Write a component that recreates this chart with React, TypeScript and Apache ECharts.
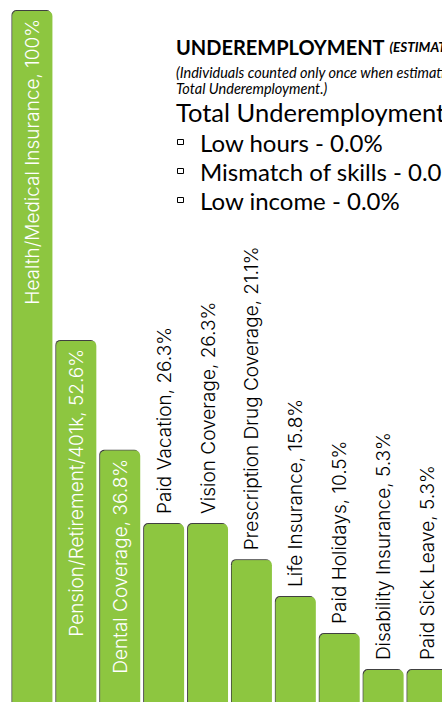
import React, { useEffect, useRef } from "react";
import * as echarts from "echarts";

const categories = [
  "Health/Medical Insurance",
  "Pension/Retirement/401k",
  "Dental Coverage",
  "Paid Vacation",
  "Vision Coverage",
  "Prescription Drug Coverage",
  "Life Insurance",
  "Paid Holidays",
  "Disability Insurance",
  "Paid Sick Leave",
];
const values = [100, 52.6, 36.8, 26.3, 26.3, 21.1, 15.8, 10.5, 5.3, 5.3];
const insideCount = 3;

const titleMain = "UNDEREMPLOYMENT ";
const titleSuffix = "(ESTIMATED)";
const noteLines = [
  "(Individuals counted only once when estimating",
  "Total Underemployment.)",
];
const totalLine = "Total Underemployment - 0.0%";
const bulletLines = ["Low hours - 0.0%", "Mismatch of skills - 0.0%", "Low income - 0.0%"];

const GREEN = "#8DC63F";
const LABEL_FONT = "Inter";

export default function App() {
  const ref = useRef<HTMLDivElement>(null);
  useEffect(() => {
    if (!ref.current) return;
    const chart = echarts.init(ref.current, undefined, { renderer: "svg" });
    const data = values.map((v, i) => {
      const inside = i < insideCount;
      return {
        value: v,
        label: inside
          ? {
              show: true,
              position: "insideTop",
              rotate: 90,
              align: "right",
              verticalAlign: "middle",
              distance: 8,
              color: "#ffffff",
            }
          : {
              show: true,
              position: "top",
              rotate: 90,
              align: "left",
              verticalAlign: "middle",
              distance: 10,
              color: "#000000",
            },
      };
    });
    const graphics: any[] = [
      {
        type: "text",
        x: 176,
        y: 47,
        style: {
          text: "{a|" + titleMain + "}{b|" + titleSuffix + "}",
          verticalAlign: "middle",
          rich: {
            a: { fontFamily: "Lato", fontWeight: "bold", fontSize: 20, fill: "#000" },
            b: { fontFamily: "Lato", fontWeight: "bold", fontStyle: "italic", fontSize: 13.5, fill: "#000" },
          },
        },
      },
      ...noteLines.map((t, i) => ({
        type: "text",
        x: 176,
        y: 72 + i * 16,
        style: {
          text: t,
          fontFamily: "Lato",
          fontStyle: "italic",
          fontSize: 14.5,
          fill: "#000",
          verticalAlign: "middle",
        },
      })),
      {
        type: "text",
        x: 176,
        y: 112,
        style: { text: totalLine, fontFamily: "Lato", fontSize: 25.5, fill: "#000", verticalAlign: "middle" },
      },
      ...bulletLines.flatMap((t, i) => [
        {
          type: "rect",
          shape: { x: 177.5, y: 139.5 + i * 29, width: 6, height: 5 },
          style: { fill: "#fff", stroke: "#000", lineWidth: 1 },
        },
        {
          type: "text",
          x: 200,
          y: 142 + i * 29,
          style: { text: t, fontFamily: "Lato", fontSize: 24, fill: "#000", verticalAlign: "middle" },
        },
      ]),
    ];
    chart.setOption({
      animation: false,
      backgroundColor: "#ffffff",
      grid: { left: 10.5, width: 439, top: 11, bottom: 13, containLabel: false },
      xAxis: {
        type: "category",
        data: categories,
        show: false,
      },
      yAxis: { type: "value", min: 0, max: 100, show: false },
      series: [
        {
          type: "bar",
          data,
          barCategoryGap: "9%",
          itemStyle: {
            color: GREEN,
            borderRadius: [5, 5, 0, 0],
            shadowColor: "rgba(0,0,0,0.75)",
            shadowOffsetX: -1,
            shadowOffsetY: -1,
            shadowBlur: 1,
          },
          label: {
            fontFamily: LABEL_FONT,
            fontWeight: 300,
            fontSize: 19,
            formatter: (p: any) => `${p.name}, ${p.value}%`,
          },
        },
      ],
      graphic: graphics,
    });
    return () => chart.dispose();
  }, []);
  return (
    <div
      style={{
        position: "fixed",
        left: 0,
        top: 0,
        width: 442,
        height: 702,
        overflow: "hidden",
        background: "#fff",
      }}
    >
      <div ref={ref} style={{ width: 460, height: 720 }} />
    </div>
  );
}
